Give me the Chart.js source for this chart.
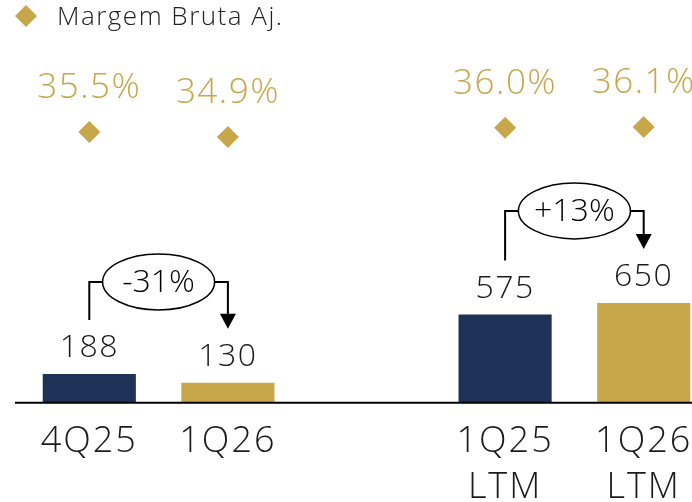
<!DOCTYPE html>
<html>
<head>
<meta charset="utf-8">
<script src="https://cdn.jsdelivr.net/npm/chart.js@4.4.1/dist/chart.umd.min.js"></script>
<style>
  html, body { margin: 0; padding: 0; background: #fff; overflow: hidden; }
  #caixa { width: 692px; height: 502px; overflow: hidden; position: relative; }
  #caixa canvas { position: absolute; left: 0; top: 0; }
</style>
</head>
<body>
<div id="caixa"><canvas id="graficaLucro" width="713" height="527"></canvas></div>
<script>
// Dados
const categorias = ['4Q25', '1Q26', '', ['1Q25', 'LTM'], ['1Q26', 'LTM']];
const lucroBruto = [188, 130, null, 575, 650];
const margemBruta = [35.5, 34.9, null, 36.0, 36.1];
const variacaoTexto = ['-31%', '+13%'];
const variacaoPares = [[0, 1], [3, 4]];
const legendaTexto = 'Margem Bruta Aj.';

const azul = '#1E3157';
const dourado = '#C8A74B';
const fonte = '"Open Sans", Lato, sans-serif';

// rótulos, chaves de variação, linha base e legenda
const rotulos = {
    id: 'rotulos',
    beforeDraw(chart) {
        chart.ctx.letterSpacing = '2px';
    },
    afterDatasetsDraw(chart) {
        const ctx = chart.ctx;
        const barras = chart.getDatasetMeta(0).data;
        const pontos = chart.getDatasetMeta(1).data;
        ctx.save();
        ctx.letterSpacing = '1.5px';
        ctx.textAlign = 'center';
        ctx.textBaseline = 'middle';

        // linha base
        ctx.strokeStyle = '#000';
        ctx.lineWidth = 2;
        ctx.beginPath();
        ctx.moveTo(15, chart.chartArea.bottom);
        ctx.lineTo(chart.width, chart.chartArea.bottom);
        ctx.stroke();

        // valores das barras
        ctx.font = '300 32px ' + fonte;
        ctx.fillStyle = '#1a1a1a';
        barras.forEach((b, i) => {
            if (lucroBruto[i] == null) return;
            ctx.fillText(String(lucroBruto[i]), b.x, b.y - 26);
        });

        // margens
        ctx.font = '300 35px ' + fonte;
        ctx.fillStyle = dourado;
        pontos.forEach((p, i) => {
            if (margemBruta[i] == null) return;
            ctx.fillText(margemBruta[i].toFixed(1) + '%', p.x, p.y - 44);
        });

        // chaves de variação
        variacaoPares.forEach(([a, b], k) => {
            const ba = barras[a], bb = barras[b];
            const yTopo = Math.min(ba.y, bb.y) - 92;
            const cx = (ba.x + bb.x) / 2;
            const rx = 56, ry = 28;
            const ponta = bb.y - 54;
            ctx.strokeStyle = '#000';
            ctx.lineWidth = 2;
            ctx.beginPath();
            ctx.moveTo(ba.x, ba.y - 54);
            ctx.lineTo(ba.x, yTopo);
            ctx.lineTo(cx - rx, yTopo);
            ctx.moveTo(cx + rx, yTopo);
            ctx.lineTo(bb.x, yTopo);
            ctx.lineTo(bb.x, ponta - 14);
            ctx.stroke();
            ctx.fillStyle = '#000';
            ctx.beginPath();
            ctx.moveTo(bb.x - 8, ponta - 15);
            ctx.lineTo(bb.x + 8, ponta - 15);
            ctx.lineTo(bb.x, ponta);
            ctx.closePath();
            ctx.fill();
            ctx.lineWidth = 1.5;
            ctx.beginPath();
            ctx.ellipse(cx, yTopo, rx, ry, 0, 0, Math.PI * 2);
            ctx.stroke();
            ctx.letterSpacing = '0px';
            ctx.font = '300 32px ' + fonte;
            ctx.fillStyle = '#000';
            ctx.fillText(variacaoTexto[k], cx, yTopo + 1);
            ctx.letterSpacing = '1.5px';
        });

        // legenda
        ctx.fillStyle = dourado;
        ctx.beginPath();
        ctx.moveTo(26, 5);
        ctx.lineTo(37, 16);
        ctx.lineTo(26, 27);
        ctx.lineTo(15, 16);
        ctx.closePath();
        ctx.fill();
        ctx.textAlign = 'left';
        ctx.font = '300 26px ' + fonte;
        ctx.fillStyle = '#222';
        ctx.fillText(legendaTexto, 57, 18);
        ctx.restore();
    }
};

new Chart(document.getElementById('graficaLucro').getContext('2d'), {
    data: {
        labels: categorias,
        datasets: [{
            type: 'bar',
            label: 'Lucro Bruto Aj.',
            data: lucroBruto,
            backgroundColor: [azul, dourado, azul, azul, dourado],
            categoryPercentage: 1,
            barPercentage: 0.672,
            yAxisID: 'y'
        }, {
            type: 'line',
            label: legendaTexto,
            data: margemBruta,
            showLine: false,
            pointStyle: 'rectRot',
            pointRadius: 11,
            pointHoverRadius: 11,
            pointBackgroundColor: dourado,
            pointBorderWidth: 0,
            yAxisID: 'y2'
        }]
    },
    options: {
        responsive: false,
        animation: false,
        layout: { autoPadding: false, padding: { left: 20, right: 0, top: 0, bottom: 0 } },
        plugins: {
            legend: { display: false },
            tooltip: { enabled: false }
        },
        scales: {
            x: {
                grid: { display: false, drawTicks: false },
                border: { display: false },
                ticks: {
                    color: '#1a1a1a',
                    padding: 16,
                    font: { family: fonte, size: 36, weight: 300, lineHeight: 1.28 },
                    maxRotation: 0,
                    autoSkip: false
                }
            },
            y: { display: false, min: 0, max: 2620 },
            y2: { display: false, min: 2.85, max: 51.4 }
        }
    },
    plugins: [rotulos]
});
</script>
</body>
</html>
